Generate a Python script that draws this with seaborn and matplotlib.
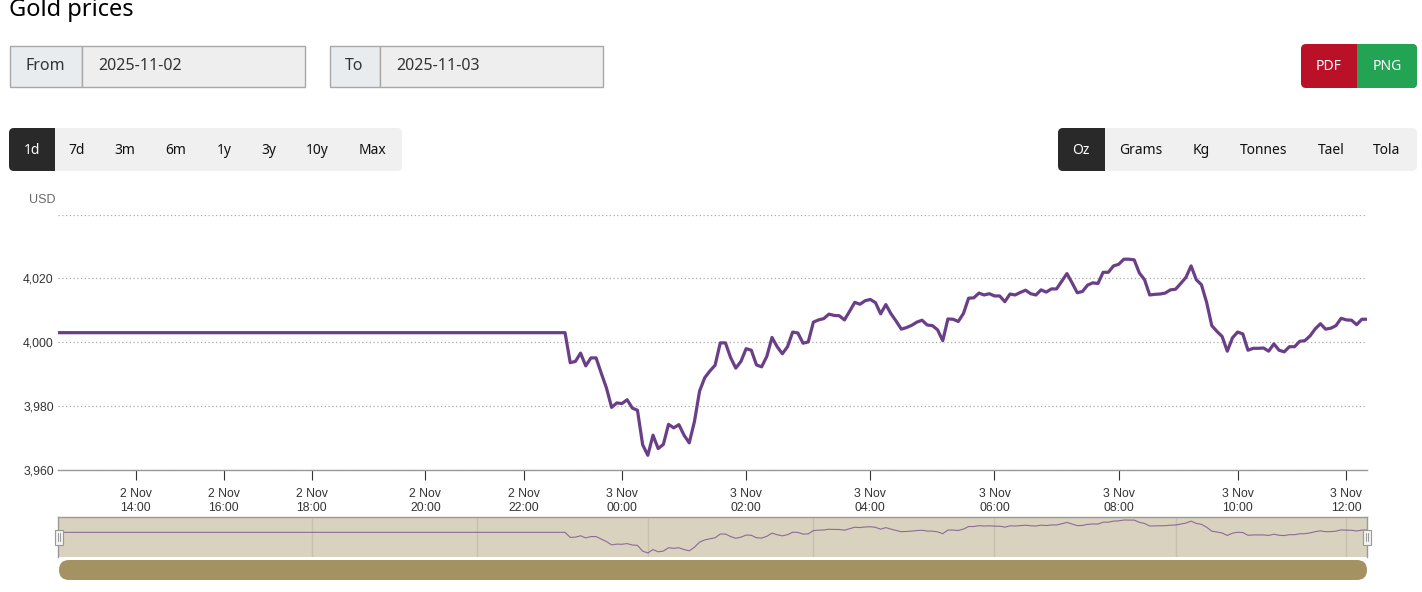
import matplotlib
matplotlib.use("Agg")
import matplotlib.pyplot as plt
from matplotlib.patches import FancyBboxPatch, Rectangle
import numpy as np
import pandas as pd
import seaborn as sns

# Data
# the chart is an ordinal time axis, so x is the sample number (5 minute samples)
flat_price = [4003.0] * 99
moving_price = [
    3993.6, 3994.0, 3996.6, 3992.6, 3995.1, 3995.1, 3990.3, 3985.7, 3979.6, 3981.0,
    3980.8, 3982.0, 3979.4, 3978.7, 3967.9, 3964.6, 3970.9, 3966.7, 3968.0, 3974.3,
    3973.2, 3974.2, 3970.9, 3968.5, 3975.1, 3984.7, 3988.9, 3991.0, 3992.8, 3999.8,
    3999.8, 3995.2, 3991.9, 3994.0, 3998.0, 3997.5, 3992.9, 3992.3, 3995.6, 4001.5,
    3998.6, 3996.4, 3998.6, 4003.2, 4002.9, 3999.7, 4000.1, 4006.3, 4007.0, 4007.4,
    4008.8, 4008.4, 4008.3, 4007.0, 4009.7, 4012.5, 4011.9, 4013.0, 4013.4, 4012.4,
    4008.9, 4011.8, 4008.9, 4006.6, 4004.1, 4004.6, 4005.3, 4006.3, 4006.9, 4005.4,
    4005.2, 4003.9, 4000.5, 4007.3, 4007.2, 4006.5, 4009.0, 4013.8, 4013.9, 4015.4,
    4014.8, 4015.2, 4014.5, 4014.5, 4012.7, 4015.1, 4014.8, 4015.6, 4016.3, 4015.2,
    4014.8, 4016.4, 4015.7, 4016.7, 4016.7, 4019.1, 4021.5, 4018.6, 4015.5, 4015.9,
    4017.9, 4018.6, 4018.4, 4021.9, 4021.9, 4023.9, 4024.4, 4026.0, 4026.0, 4025.8,
    4021.7, 4019.6, 4014.8, 4015.0, 4015.1, 4015.4, 4016.4, 4016.6, 4018.4, 4020.3,
    4023.9, 4019.6, 4018.0, 4012.5, 4005.2, 4003.4, 4001.8, 3997.2, 4001.4, 4003.2,
    4002.6, 3997.5, 3998.1, 3998.1, 3998.2, 3997.2, 3999.5, 3997.5, 3997.0, 3998.6,
    3998.6, 4000.3, 4000.5, 4002.0, 4004.2, 4005.8, 4004.1, 4004.4, 4005.2, 4007.5,
    4007.0, 4006.9, 4005.5, 4007.2, 4007.2,
]
prices = flat_price + moving_price

tick_samples = [15, 32, 49, 71, 90, 109, 133, 157, 181, 205, 228, 249]
tick_labels = ["2 Nov\n14:00", "2 Nov\n16:00", "2 Nov\n18:00", "2 Nov\n20:00", "2 Nov\n22:00",
               "3 Nov\n00:00", "3 Nov\n02:00", "3 Nov\n04:00", "3 Nov\n06:00", "3 Nov\n08:00",
               "3 Nov\n10:00", "3 Nov\n12:00"]
y_ticks = [3960, 3980, 4000, 4020, 4040]
y_labels = ["3,960", "3,980", "4,000", "4,020", ""]
nav_grid = [49, 81, 114, 146, 181, 216, 249]

range_tabs = ["1d", "7d", "3m", "6m", "1y", "3y", "10y", "Max"]
unit_tabs = ["Oz", "Grams", "Kg", "Tonnes", "Tael", "Tola"]

df = pd.DataFrame({"sample": np.arange(len(prices)), "price": prices})

PURPLE = "#6b3f87"
W, H = 1422, 592
UI_FONT = "Noto Sans"
CHART_FONT = "Liberation Sans"

sns.set_style("white")
fig = plt.figure(figsize=(W / 100, H / 100), dpi=100, facecolor="white")


def px_axes(left, top, right, bottom):
    return fig.add_axes([left / W, 1 - bottom / H, (right - left) / W, (bottom - top) / H])


# page widgets, drawn in pixel coordinates
page = fig.add_axes([0, 0, 1, 1], zorder=0)
page.set_xlim(0, W)
page.set_ylim(H, 0)
page.axis("off")


def box(x0, y0, x1, y1, color, edge="none", radius=0):
    if radius:
        page.add_patch(FancyBboxPatch((x0, y0), x1 - x0, y1 - y0, facecolor=color, edgecolor=edge,
                                      boxstyle="round,pad=0,rounding_size=%d" % radius, lw=0))
    else:
        page.add_patch(Rectangle((x0, y0), x1 - x0, y1 - y0, facecolor=color, edgecolor=edge, lw=1))


def label(x, y, s, size=11.5, color="#212529", weight="normal", ha="center"):
    page.text(x, y, s, fontsize=size, color=color, fontweight=weight, ha=ha, va="center", family=UI_FONT)


page.text(9, 10, "Gold prices", fontsize=17, fontweight="bold", color="black", va="center", family=UI_FONT)

# date inputs
for x0, x_div, x1, name, name_x, value, value_x in [(9.5, 81.5, 304.5, "From", 45, "2025-11-02", 98),
                                                    (329.5, 379.5, 602.5, "To", 354, "2025-11-03", 396)]:
    box(x0, 45.5, x_div, 86.5, "#e9ecef", "#a8a8a8")
    box(x_div, 45.5, x1, 86.5, "#eeeeee", "#a8a8a8")
    label(name_x, 66, name, color="#333333")
    label(value_x, 66, value, color="#333333", ha="left")

# download buttons
box(1301, 44, 1417, 88, "#bb1128", radius=5)
box(1357, 44, 1417, 88, "#23a455", radius=5)
box(1357, 44, 1400, 88, "#23a455")
label(1329, 66, "PDF", size=10, color="white", weight="bold")
label(1387, 66, "PNG", size=10, color="white", weight="bold")

# range and unit tabs
box(9, 128, 402, 171, "#f0f0f0", radius=5)
box(9, 128, 55, 171, "#292929", radius=5)
box(30, 128, 55, 171, "#292929")
for x, s in zip([32, 77, 125, 176, 224, 269, 317, 373], range_tabs):
    label(x, 150, s, size=10, weight="bold", color="white" if s == "1d" else "#111111")

box(1058, 128, 1417, 171, "#f0f0f0", radius=5)
box(1058, 128, 1105, 171, "#292929", radius=5)
box(1080, 128, 1105, 171, "#292929")
for x, s in zip([1081, 1141, 1201, 1264, 1331, 1387], unit_tabs):
    label(x, 150, s, size=10, weight="bold", color="white" if s == "Oz" else "#111111")

page.text(55, 200, "USD", fontsize=9, color="#666666", ha="right", va="center", family=CHART_FONT)

# main chart
ax = px_axes(58, 214.5, 1367, 470)
ax.patch.set_alpha(0)
sns.lineplot(data=df, x="sample", y="price", ax=ax, color=PURPLE, lw=2.3, errorbar=None, estimator=None)
ax.set_xlim(0, 253)
ax.set_ylim(3960, 4040)
ax.set_xlabel("")
ax.set_ylabel("")
ax.set_yticks(y_ticks)
ax.set_yticklabels(y_labels, fontsize=8.8, color="#333333", family=CHART_FONT)
ax.set_xticks(tick_samples)
ax.set_xticklabels(tick_labels, fontsize=8.8, color="#333333", family=CHART_FONT, linespacing=1.15)
ax.tick_params(axis="x", length=7.2, width=0.8, color="#333333", pad=6, bottom=True)
ax.tick_params(axis="y", length=0, pad=3)
ax.yaxis.grid(True, color="#aaaaaa", lw=0.9, ls=(0, (1, 2)))
ax.xaxis.grid(False)
for side in ["top", "left", "right"]:
    ax.spines[side].set_visible(False)
ax.spines["bottom"].set_color("#999999")
ax.spines["bottom"].set_linewidth(1)

# navigator strip under the chart
nav = px_axes(58, 517, 1367, 557)
nav.set_facecolor("#d9d2bf")
for x in nav_grid:
    nav.axvline(x, color="#c8c1ad", lw=1)
sns.lineplot(data=df, x="sample", y="price", ax=nav, color=PURPLE, lw=0.8, alpha=0.7, errorbar=None, estimator=None)
nav.set_xlim(0, 253)
nav.set_ylim(3957, 4031.6)
nav.set_xlabel("")
nav.set_ylabel("")
nav.set_xticks([])
nav.set_yticks([])
nav.spines["bottom"].set_visible(False)
for side in ["top", "left", "right"]:
    nav.spines[side].set_color("#999999")
    nav.spines[side].set_linewidth(1)

# navigator handles and scrollbar, above the strip
over = fig.add_axes([0, 0, 1, 1], zorder=5)
over.set_xlim(0, W)
over.set_ylim(H, 0)
over.axis("off")
for x in [58.5, 1366.5]:
    over.add_patch(Rectangle((x - 4, 529.5), 8, 15, facecolor="#f2f2f2", edgecolor="#999999", lw=0.8))
    over.plot([x - 1, x - 1], [533, 541], color="#999999", lw=0.7)
    over.plot([x + 1, x + 1], [533, 541], color="#999999", lw=0.7)
over.add_patch(FancyBboxPatch((59, 560), 1308, 20, facecolor="#a59262", edgecolor="none", lw=0,
                              boxstyle="round,pad=0,rounding_size=10"))

fig.savefig("out.png", dpi=100)
